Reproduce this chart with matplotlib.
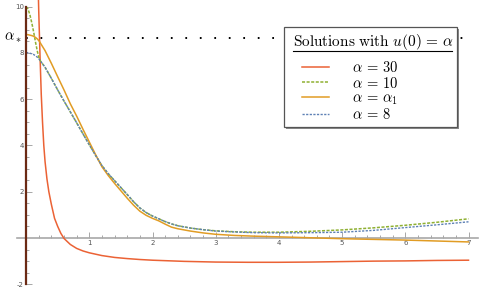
import matplotlib
matplotlib.use("Agg")
import matplotlib.pyplot as plt
from matplotlib.patches import Rectangle
from matplotlib.lines import Line2D

plt.rcParams['mathtext.fontset'] = 'cm'

# --- data ---
alpha_star = 8.66

x_red = [0, 0.04, 0.08, 0.12, 0.16, 0.2, 0.22, 0.24, 0.26, 0.28, 0.3, 0.33, 0.36,
         0.4, 0.45, 0.5, 0.55, 0.6, 0.7, 0.8, 0.9, 1.0, 1.2, 1.4, 1.6, 1.8, 2.0,
         2.5, 3.0, 3.5, 4.0, 4.5, 5.0, 5.5, 6.0, 6.5, 7.0]
y_red = [30, 28.5, 24.5, 19.5, 14.5, 9.8, 7.9, 6.2, 5.0, 4.0, 3.3, 2.55, 2.0,
         1.45, 0.85, 0.5, 0.2, -0.02, -0.28, -0.45, -0.56, -0.64, -0.76, -0.84,
         -0.89, -0.93, -0.96, -1.01, -1.04, -1.05, -1.05, -1.04, -1.02, -1.0,
         -0.99, -0.97, -0.96]

x_c = [0, 0.03, 0.06, 0.09, 0.12, 0.15, 0.18, 0.21, 0.3, 0.4, 0.5, 0.6, 0.7, 0.8,
       0.9, 1.0, 1.1, 1.2, 1.3, 1.4, 1.5, 1.6, 1.7, 1.8, 1.9, 2.0, 2.1, 2.2, 2.3,
       2.4, 2.6, 2.8, 3.0, 3.3, 3.6, 4.0, 4.5, 5.0, 5.5, 6.0, 6.5, 7.0]
y_10 = [10.0, 9.9, 9.65, 9.3, 8.9, 8.45, 8.05, 7.72, 7.38, 6.9, 6.4, 5.92, 5.45,
        4.98, 4.5, 4.03, 3.57, 3.13, 2.78, 2.48, 2.18, 1.88, 1.57, 1.3, 1.1, 0.95,
        0.83, 0.71, 0.61, 0.53, 0.43, 0.36, 0.31, 0.27, 0.25, 0.25, 0.29, 0.35,
        0.44, 0.55, 0.68, 0.83]
y_a1 = [8.8, 8.79, 8.77, 8.75, 8.72, 8.67, 8.6, 8.5, 8.1, 7.55, 6.97, 6.4, 5.8,
        5.27, 4.7, 4.15, 3.6, 3.08, 2.7, 2.36, 2.04, 1.72, 1.42, 1.16, 0.98, 0.85,
        0.74, 0.6, 0.47, 0.4, 0.3, 0.22, 0.16, 0.11, 0.08, 0.05, 0.01, -0.03,
        -0.06, -0.09, -0.13, -0.17]
y_8 = [8.02, 8.01, 7.99, 7.96, 7.93, 7.88, 7.81, 7.72, 7.38, 6.9, 6.4, 5.92, 5.45,
       4.98, 4.5, 4.03, 3.57, 3.13, 2.78, 2.48, 2.18, 1.88, 1.57, 1.3, 1.1, 0.95,
       0.83, 0.71, 0.61, 0.53, 0.43, 0.36, 0.3, 0.26, 0.23, 0.22, 0.23, 0.25,
       0.33, 0.45, 0.57, 0.7]

labels = [r'$\alpha\,=\,30$', r'$\alpha\,=\,10$', r'$\alpha\,=\,\alpha_1$', r'$\alpha\,=\,8$']
x_ticks = [1, 2, 3, 4, 5, 6, 7]
y_ticks = [-2, 2, 4, 6, 8, 10]

c_red, c_green, c_orange, c_blue = '#EB6235', '#8FB032', '#E19C24', '#5E81B5'

W, H = 481, 289
fig = plt.figure(figsize=(W / 100, H / 100), dpi=100)
ax = fig.add_axes([0, 0, 1, 1])

# pixel mapping of the reference: x=0 at 26.1px, 63.2px/unit; y=0 at 238px, 23.13px/unit
x0, sx, y0, sy = 26.1, 63.2, 238.0, 23.13
ax.set_xlim(-x0 / sx, (W - x0) / sx)
ax.set_ylim(-(H - y0) / sy, y0 / sy)

ax.plot(x_red, y_red, color=c_red, lw=1.1, zorder=3)
ax.plot(x_c, y_10, color=c_green, lw=1.1, dashes=(2.0, 1.0), zorder=3)
ax.plot(x_c, y_a1, color=c_orange, lw=1.1, zorder=3)
ax.plot(x_c, y_8, color=c_blue, lw=1.0, dashes=(1.6, 1.0), zorder=3)

ax.plot([0, 7], [alpha_star, alpha_star], color='black', lw=1.4, dashes=(0.9, 6.55))
ax.text(-0.21, alpha_star, r'$\alpha_*$', fontsize=10.5, ha='center', va='center')

# axes through the origin
for s in ['top', 'right']:
    ax.spines[s].set_visible(False)
ax.spines['left'].set_position(('data', 0))
ax.spines['bottom'].set_position(('data', 0))
ax.spines['left'].set_bounds(-2, 10)
ax.spines['bottom'].set_bounds((16.7 - x0) / sx, (477.7 - x0) / sx)
ax.spines['left'].set_color('#6b2a14')
ax.spines['left'].set_linewidth(1.6)
ax.spines['bottom'].set_color('#a8a8a8')
ax.spines['bottom'].set_linewidth(1.2)
ax.spines['left'].set_zorder(4)

ax.set_xticks(x_ticks)
ax.set_xticks([i * 0.2 for i in range(1, 36) if i % 5 != 0], minor=True)
ax.set_yticks(y_ticks)
ax.set_yticks([i * 0.5 - 2 for i in range(0, 25) if i % 4 != 0], minor=True)
ax.set_yticklabels([str(v) for v in y_ticks])
ax.tick_params(which='both', direction='in', color='#999999', width=0.6,
               labelsize=5, labelcolor='#555555', pad=1.5)
ax.tick_params(which='major', length=4)
ax.tick_params(which='minor', length=2.5)

# legend box with underlined title (figure-pixel placement)
def fx(px):
    return px / W

def fy(py):
    return 1 - py / H

ft = fig.transFigure
ax.add_patch(Rectangle((fx(286), fy(129)), fx(457) - fx(284), fy(27) - fy(127),
                       transform=ft, facecolor='#8a8a8a', edgecolor='none',
                       zorder=5, clip_on=False))
ax.add_patch(Rectangle((fx(284), fy(127)), fx(457) - fx(284), fy(27) - fy(127),
                       transform=ft, facecolor='white', edgecolor='#555555', lw=0.9,
                       zorder=6, clip_on=False))
ax.text(fx(293), fy(42), r'$\mathrm{Solutions\ with\ }u(0)\,=\,\alpha$', fontsize=11,
        ha='left', va='center', transform=ft, zorder=7)
ax.add_line(Line2D([fx(293), fx(452)], [fy(51), fy(51)], transform=ft,
                   color='black', lw=0.8, zorder=7, clip_on=False))

leg = ax.legend(ax.lines[:4], labels, loc='upper left', frameon=False,
                bbox_to_anchor=(fx(302), fy(60.5)), bbox_transform=ft,
                borderpad=0, borderaxespad=0, fontsize=10.5, handlelength=1.85,
                handletextpad=1.6, labelspacing=0.0)
leg.set_zorder(8)

fig.savefig('out.png', dpi=100)
